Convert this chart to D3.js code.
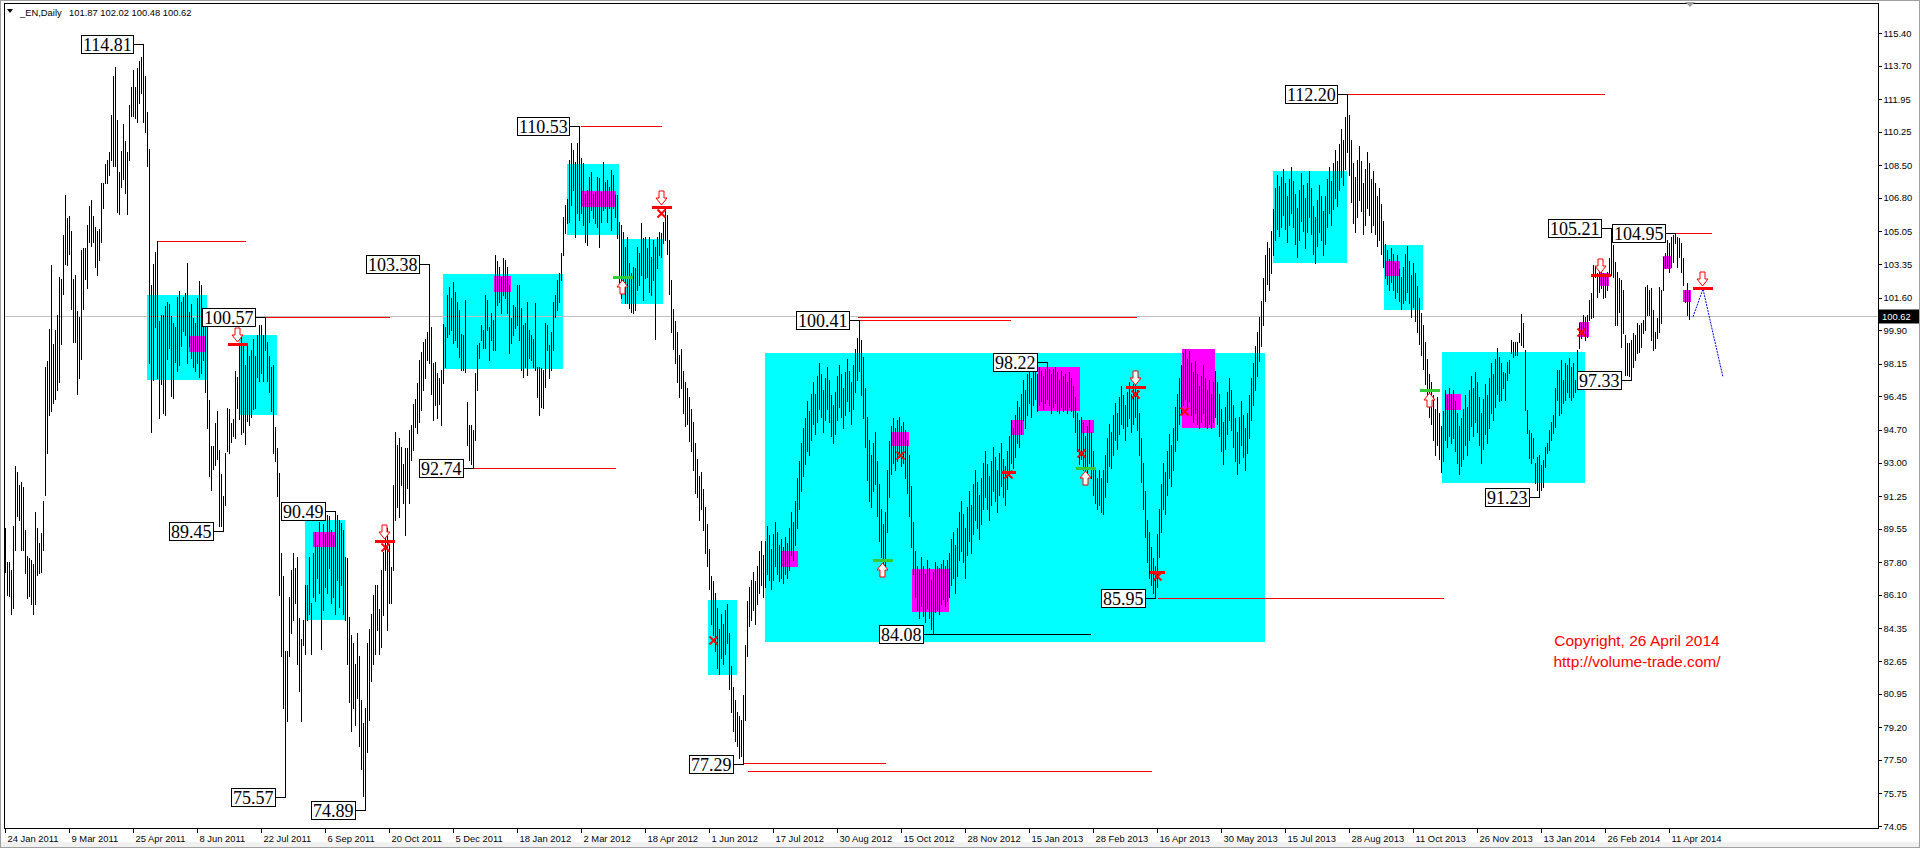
<!DOCTYPE html>
<html>
<head>
<meta charset="utf-8">
<title>_EN,Daily</title>
<style>
  body { margin: 0; background: #ffffff; overflow: hidden; }
  svg { display: block; }
  .small { font-family: "Liberation Sans", Arial, sans-serif; font-size: 9.4px; fill: #000; }
</style>
</head>
<body>
<div id="chart"></div>
<script src="https://d3js.org/d3.v7.min.js"></script>
<script>

// ---- data ----

var dateLabels = ["24 Jan 2011", "9 Mar 2011", "25 Apr 2011", "8 Jun 2011", "22 Jul 2011", "6 Sep 2011",
    "20 Oct 2011", "5 Dec 2011", "18 Jan 2012", "2 Mar 2012", "18 Apr 2012", "1 Jun 2012", "17 Jul 2012",
    "30 Aug 2012", "15 Oct 2012", "28 Nov 2012", "15 Jan 2013", "28 Feb 2013", "16 Apr 2013", "30 May 2013",
    "15 Jul 2013", "28 Aug 2013", "11 Oct 2013", "26 Nov 2013", "13 Jan 2014", "26 Feb 2014", "11 Apr 2014"];

var priceTicks = [74.05, 75.75, 77.50, 79.20, 80.95, 82.65, 84.35, 86.10, 87.80, 89.55, 91.25, 93.00, 94.70,
    96.45, 98.15, 99.90, 101.60, 103.35, 105.05, 106.80, 108.50, 110.25, 111.95, 113.70, 115.40];

var lastBar = { open: 101.87, high: 102.02, low: 100.48, close: 100.62 };

// daily highs, one per bar
var barHigh = [
    89.61, 87.82, 87.82, 87.42, 89.71, 92.80, 92.51, 91.81, 92.01, 91.71,
    89.51, 88.12, 88.02, 87.92, 87.72, 90.41, 89.61, 88.82, 89.31, 91.01,
    97.99, 98.29, 99.99, 103.28, 99.19, 99.89, 100.69, 102.68, 102.58, 104.88,
    106.97, 105.77, 105.87, 105.08, 102.58, 102.78, 100.89, 100.59, 104.08, 104.18,
    104.18, 105.37, 106.37, 106.67, 105.87, 105.28, 105.08, 105.18, 107.57, 107.57,
    108.57, 108.77, 109.17, 111.12, 113.16, 113.65, 110.86, 108.17, 109.27, 110.66,
    109.76, 109.17, 111.66, 112.56, 113.46, 112.56, 113.55, 113.95, 114.15, 114.81,
    113.16, 111.26, 109.37, 102.28, 103.38, 103.98, 104.58, 100.39, 100.69, 100.69,
    101.18, 101.38, 101.28, 100.66, 100.26, 100.06, 101.66, 101.96, 101.36, 101.66,
    101.86, 103.40, 100.86, 101.26, 100.56, 100.26, 101.56, 102.46, 102.26, 100.76,
    100.66, 100.26, 96.27, 93.88, 93.88, 95.08, 95.67, 93.68, 92.38, 91.28,
    93.48, 95.87, 95.77, 95.08, 95.28, 97.77, 97.47, 99.17, 99.66, 99.07,
    98.07, 99.17, 98.57, 98.87, 99.47, 98.57, 99.66, 100.16, 100.16, 99.66,
    100.57, 99.27, 98.57, 97.97, 98.07, 94.88, 93.78, 92.48, 88.29, 87.09,
    83.20, 83.20, 85.99, 87.39, 88.29, 87.49, 88.09, 84.90, 83.80, 84.80,
    86.60, 86.60, 88.09, 85.70, 88.29, 89.39, 88.69, 89.89, 88.59, 89.79,
    89.29, 90.29, 90.19, 89.48, 89.22, 90.49, 90.26, 90.00, 89.83, 89.48,
    88.09, 88.00, 84.96, 84.00, 83.60, 82.50, 84.10, 82.90, 80.60, 79.40,
    80.20, 83.60, 84.30, 85.10, 86.09, 86.61, 86.61, 85.39, 87.39, 88.35,
    89.74, 89.57, 88.78, 87.57, 91.83, 94.61, 93.91, 94.26, 93.82, 92.95,
    93.74, 93.74, 94.69, 94.95, 96.08, 96.34, 97.13, 98.34, 98.78, 99.30,
    99.47, 99.82, 103.38, 100.08, 98.17, 98.26, 97.65, 97.39, 97.82, 100.25,
    100.08, 101.73, 102.17, 101.56, 102.43, 101.90, 101.38, 100.95, 99.73, 99.65,
    101.47, 96.17, 94.95, 94.95, 94.69, 97.65, 99.12, 99.21, 100.17, 99.91,
    101.73, 101.47, 100.08, 100.78, 100.43, 103.82, 103.50, 103.21, 102.69, 103.65,
    103.56, 103.21, 102.26, 100.52, 101.21, 101.13, 102.26, 102.26, 101.04, 100.17,
    100.26, 101.39, 99.91, 99.65, 99.47, 101.30, 98.00, 98.00, 97.91, 97.82,
    100.26, 100.17, 99.13, 99.82, 101.39, 101.73, 102.52, 102.86, 103.91, 105.82,
    106.43, 106.77, 108.77, 109.64, 109.29, 108.69, 109.64, 110.53, 108.86, 108.60,
    107.03, 107.21, 107.90, 108.17, 107.03, 107.12, 107.90, 107.82, 107.12, 108.69,
    107.64, 107.73, 107.38, 108.25, 107.99, 106.95, 106.95, 105.56, 105.38, 105.04,
    104.25, 104.78, 103.39, 102.86, 103.21, 103.13, 104.25, 103.91, 105.47, 104.69,
    104.78, 104.17, 104.78, 103.73, 104.60, 104.25, 104.78, 105.04, 104.95, 105.56,
    106.30, 105.90, 104.60, 102.50, 101.00, 100.40, 99.80, 98.60, 98.90, 97.80,
    97.20, 96.90, 96.40, 95.80, 95.10, 94.00, 93.20, 92.30, 92.50, 91.60,
    90.70, 89.80, 88.50, 87.10, 86.80, 86.20, 85.40, 84.30, 85.10, 84.60,
    85.30, 85.60, 84.10, 82.40, 81.30, 80.60, 80.00, 79.80, 79.60, 80.90,
    83.50, 85.80, 86.50, 86.90, 87.30, 86.80, 87.60, 88.40, 88.90, 88.20,
    88.90, 89.70, 89.20, 88.50, 89.30, 89.90, 89.40, 88.70, 89.00, 88.60,
    89.10, 88.80, 89.60, 90.40, 89.90, 91.00, 92.20, 93.10, 94.00, 94.80,
    95.30, 96.20, 95.70, 96.60, 97.20, 96.60, 97.50, 98.20, 97.60, 96.80,
    97.40, 98.00, 97.30, 96.50, 96.00, 96.70, 97.50, 98.10, 97.60, 96.90,
    97.70, 98.40, 97.80, 97.20, 98.10, 98.90, 99.50, 100.41, 99.40, 98.50,
    96.90, 95.40, 94.20, 93.40, 94.00, 94.60, 93.10, 91.90, 90.60, 89.80,
    90.40, 92.60, 94.10, 94.90, 95.30, 94.80, 95.20, 95.40, 94.90, 95.10,
    94.70, 94.20, 93.40, 91.80, 89.90, 88.40, 87.60, 87.40, 88.10, 87.60,
    87.20, 87.90, 87.50, 86.90, 87.30, 87.80, 87.60, 87.50, 87.70, 87.90,
    87.60, 87.90, 88.30, 89.00, 89.40, 88.70, 89.60, 90.40, 91.00, 90.30,
    89.60, 90.70, 91.50, 90.80, 91.90, 92.60, 92.00, 91.30, 92.20, 93.00,
    93.60, 92.90, 92.30, 93.10, 93.80, 93.30, 92.60, 93.50, 94.00, 93.20,
    92.80, 93.60, 94.40, 95.20, 94.80, 95.50, 96.20, 95.90, 96.60, 97.30,
    96.80, 97.60, 98.10, 97.40, 97.90, 98.00, 97.60, 98.00, 97.80, 97.50,
    97.90, 98.22, 97.90, 97.60, 97.90, 98.00, 97.70, 97.30, 97.80, 97.50,
    97.60, 97.20, 97.70, 97.40, 97.00, 96.40, 95.60, 95.20, 95.40, 95.10,
    94.40, 94.90, 95.20, 94.60, 93.60, 92.70, 92.20, 92.60, 92.20, 92.60,
    93.40, 94.30, 95.00, 94.60, 95.50, 96.10, 95.60, 96.40, 97.00, 96.50,
    96.00, 96.70, 97.20, 96.60, 97.10, 97.50, 96.80, 95.60, 94.30, 93.00,
    91.50, 90.00, 89.40, 88.60, 88.00, 87.60, 89.30, 90.60, 91.90, 93.00,
    92.50, 93.60, 94.50, 93.90, 94.80, 95.90, 96.60, 97.40, 98.10, 98.70,
    98.90, 98.40, 98.80, 98.20, 97.70, 98.30, 97.60, 97.00, 97.50, 98.10,
    97.40, 96.80, 97.30, 96.60, 97.20, 97.80, 97.20, 96.60, 95.80, 95.10,
    95.90, 96.70, 97.40, 96.80, 96.00, 95.30, 94.60, 95.40, 96.20, 95.50,
    94.80, 95.60, 96.50, 97.40, 98.20, 99.10, 99.80, 100.60, 101.40, 102.60,
    103.80, 104.50, 104.20, 105.10, 106.20, 107.30, 108.00, 107.40, 107.90, 108.30,
    107.60, 106.90, 107.80, 108.40, 107.70, 107.00, 106.30, 107.20, 108.10, 107.50,
    106.80, 107.60, 108.20, 107.30, 106.40, 105.80, 106.70, 107.50, 106.90, 106.10,
    106.90, 107.80, 108.40, 107.70, 108.60, 109.30, 108.70, 109.60, 110.40, 109.80,
    111.00, 112.20, 111.10, 109.80, 108.60, 107.90, 108.80, 109.50, 108.70, 107.60,
    108.30, 109.20, 108.60, 107.80, 108.20, 107.60, 106.90, 107.30, 106.50, 105.60,
    104.40, 104.10, 103.60, 104.20, 103.90, 103.40, 103.80, 103.10, 102.70, 103.20,
    103.90, 104.30, 103.50, 102.80, 103.40, 102.90, 102.20, 101.60, 100.80, 100.20,
    99.30, 98.40, 97.60, 97.20, 96.50, 95.80, 96.40, 95.60, 94.90, 95.70,
    96.80, 96.50, 96.90, 96.60, 96.80, 96.20, 95.60, 94.90, 95.30, 95.80,
    96.50, 95.90, 96.80, 97.50, 96.90, 97.70, 97.20, 96.40, 95.60, 96.30,
    97.10, 96.50, 97.40, 98.20, 97.60, 98.40, 99.00, 98.50, 98.17, 97.74,
    97.65, 98.26, 98.35, 99.39, 99.30, 99.30, 99.30, 99.74, 100.75, 100.26,
    98.87, 95.74, 94.70, 94.52, 94.26, 92.96, 93.31, 93.40, 92.87, 93.13,
    93.83, 94.00, 94.70, 95.13, 95.48, 96.87, 97.83, 97.83, 98.35, 97.30,
    98.17, 98.09, 98.44, 98.00, 98.17, 97.30, 98.87, 100.26, 100.26, 100.69,
    100.61, 100.69, 101.48, 101.82, 103.30, 103.21, 102.87, 103.13, 102.95, 102.87,
    102.78, 102.95, 103.65, 105.21, 104.34, 103.47, 102.95, 102.61, 102.52, 102.00,
    99.65, 99.22, 99.22, 99.39, 99.74, 99.65, 100.26, 100.17, 100.26, 100.43,
    102.17, 102.26, 102.00, 102.08, 100.96, 99.82, 100.52, 102.17, 102.00, 103.74,
    103.91, 104.60, 104.43, 104.78, 104.85, 104.95, 104.78, 104.69, 104.43, 103.65,
    102.00, 102.35, 102.02
];

// daily lows, one per bar
var barLow = [
    87.32, 86.12, 86.02, 85.12, 85.42, 88.42, 90.21, 90.01, 88.42, 88.42,
    87.22, 85.92, 86.02, 85.62, 85.12, 85.62, 87.12, 87.22, 87.32, 88.42,
    91.31, 93.50, 95.50, 95.70, 96.10, 96.30, 96.80, 97.19, 99.19, 101.78,
    103.38, 103.28, 103.88, 100.99, 99.29, 99.29, 96.60, 97.39, 98.39, 100.99,
    102.58, 102.08, 104.48, 104.28, 104.48, 103.18, 102.78, 103.58, 104.48, 106.27,
    107.57, 107.57, 107.97, 108.77, 108.47, 108.47, 106.07, 105.97, 107.37, 107.77,
    107.07, 105.97, 108.77, 111.06, 111.06, 110.96, 110.76, 111.76, 112.26, 110.76,
    110.26, 108.47, 98.19, 94.60, 97.29, 100.09, 97.39, 95.30, 97.09, 95.60,
    95.50, 98.39, 98.99, 96.47, 96.37, 98.27, 97.77, 98.07, 99.07, 99.86,
    99.66, 98.17, 99.07, 98.47, 97.97, 97.77, 98.17, 97.47, 97.67, 98.37,
    96.67, 94.78, 92.28, 91.58, 92.68, 92.88, 93.18, 89.69, 89.69, 89.45,
    90.79, 93.58, 93.48, 94.08, 94.38, 94.28, 95.87, 95.28, 94.48, 94.58,
    93.98, 95.18, 94.98, 95.38, 95.77, 95.87, 97.47, 97.27, 97.67, 97.27,
    98.87, 97.27, 96.67, 95.67, 93.48, 93.08, 91.28, 86.10, 82.90, 80.21,
    75.57, 79.51, 82.90, 84.10, 84.80, 85.70, 82.51, 81.11, 79.51, 83.50,
    83.00, 84.80, 85.10, 83.00, 85.99, 85.80, 86.99, 86.20, 83.30, 85.30,
    86.50, 86.20, 87.49, 85.66, 86.00, 85.13, 86.87, 85.48, 86.61, 85.13,
    84.79, 82.50, 80.50, 79.00, 80.20, 79.30, 80.70, 78.20, 77.00, 75.60,
    74.89, 77.90, 79.60, 81.60, 82.50, 83.00, 84.27, 83.00, 83.40, 85.05,
    87.39, 84.27, 85.66, 85.66, 87.39, 90.00, 90.70, 90.17, 91.83, 90.87,
    89.22, 91.65, 90.87, 93.13, 93.65, 94.87, 94.52, 95.13, 95.73, 96.78,
    97.39, 98.34, 98.17, 96.60, 95.21, 95.99, 95.30, 96.08, 94.95, 97.13,
    97.99, 99.56, 99.73, 99.91, 99.21, 99.38, 99.04, 98.52, 97.82, 97.82,
    97.73, 93.91, 93.13, 92.95, 92.74, 94.17, 96.78, 98.43, 99.38, 98.95,
    98.95, 99.91, 98.34, 99.38, 98.86, 98.86, 101.21, 101.39, 100.78, 101.73,
    101.56, 100.78, 98.69, 99.21, 99.65, 100.00, 100.17, 99.39, 97.82, 97.48,
    98.00, 97.56, 98.43, 98.35, 98.00, 97.82, 96.43, 95.48, 95.91, 95.83,
    96.95, 98.87, 97.39, 97.82, 98.87, 100.61, 100.95, 101.39, 102.52, 103.82,
    104.95, 105.47, 105.56, 106.43, 107.21, 104.78, 105.99, 105.65, 105.99, 105.38,
    104.51, 104.34, 105.56, 106.17, 105.73, 105.47, 105.30, 104.25, 105.56, 106.17,
    106.25, 105.56, 106.25, 105.12, 106.25, 105.82, 104.69, 102.34, 101.56, 101.99,
    101.30, 101.30, 101.04, 100.87, 100.78, 100.95, 101.99, 102.26, 102.78, 101.47,
    102.60, 102.69, 101.91, 101.73, 102.52, 99.47, 103.13, 103.82, 103.73, 104.43,
    104.60, 103.90, 101.80, 99.80, 98.90, 98.20, 97.20, 96.40, 96.90, 95.60,
    94.90, 95.00, 94.10, 93.60, 92.60, 91.40, 91.20, 90.00, 90.60, 89.50,
    88.30, 87.60, 86.40, 84.60, 84.00, 83.20, 82.30, 82.00, 82.80, 82.50,
    83.00, 83.60, 81.20, 80.00, 79.00, 78.50, 78.20, 77.60, 77.70, 77.29,
    79.60, 82.90, 84.50, 84.80, 85.30, 84.60, 85.60, 86.20, 86.60, 86.00,
    86.50, 87.20, 86.90, 86.40, 86.90, 87.60, 87.20, 86.80, 87.00, 86.70,
    87.20, 87.00, 87.40, 88.20, 87.90, 88.70, 89.60, 90.60, 91.50, 92.30,
    92.90, 93.60, 93.40, 94.20, 95.00, 94.50, 95.10, 95.80, 95.40, 94.60,
    95.20, 95.80, 95.10, 94.40, 94.00, 94.50, 95.20, 95.90, 95.40, 94.80,
    95.50, 96.20, 95.70, 95.00, 95.80, 96.70, 97.30, 97.80, 96.50, 95.30,
    93.80, 92.10, 91.00, 90.70, 91.50, 91.90, 90.20, 88.90, 88.10, 87.40,
    87.60, 89.40, 91.20, 92.40, 93.00, 92.60, 93.10, 93.30, 92.80, 93.00,
    92.20, 91.40, 90.20, 88.60, 87.20, 86.00, 85.30, 84.90, 85.50, 85.00,
    84.70, 85.40, 84.90, 84.30, 84.08, 85.20, 85.30, 85.10, 85.60, 85.90,
    85.50, 85.80, 86.00, 86.60, 87.00, 86.20, 87.10, 87.90, 88.40, 87.80,
    87.00, 88.20, 88.90, 88.30, 89.30, 90.00, 89.60, 89.00, 89.80, 90.60,
    91.20, 90.60, 90.00, 90.80, 91.50, 91.00, 90.40, 91.30, 91.80, 91.20,
    90.80, 91.60, 92.30, 93.00, 92.70, 93.30, 94.00, 93.80, 94.50, 95.20,
    94.80, 95.50, 96.10, 95.40, 96.00, 96.30, 95.70, 96.00, 96.20, 95.80,
    96.10, 96.30, 96.00, 95.60, 95.90, 96.10, 95.70, 95.60, 95.90, 95.70,
    95.80, 95.60, 95.90, 95.70, 95.40, 94.60, 93.60, 92.90, 93.20, 92.60,
    92.10, 92.40, 93.00, 92.20, 91.30, 90.90, 90.60, 90.80, 90.40, 90.30,
    91.20, 92.00, 92.80, 92.70, 93.40, 94.20, 93.70, 94.50, 95.00, 94.80,
    94.20, 94.90, 95.30, 94.60, 95.00, 95.40, 94.70, 93.40, 92.00, 90.60,
    89.10, 87.80, 87.00, 86.60, 86.20, 85.95, 86.50, 88.10, 89.40, 90.60,
    90.30, 91.30, 92.20, 91.80, 92.60, 93.60, 94.20, 95.00, 95.60, 96.00,
    96.30, 95.80, 96.20, 95.50, 95.10, 95.60, 95.00, 94.80, 95.10, 95.60,
    94.90, 94.80, 95.00, 94.80, 95.10, 95.40, 95.00, 94.40, 93.60, 92.90,
    93.70, 94.50, 95.20, 94.70, 93.80, 93.10, 92.40, 93.00, 93.90, 93.30,
    92.60, 93.50, 94.30, 95.20, 96.00, 96.80, 97.50, 98.30, 99.10, 100.20,
    101.40, 102.30, 102.00, 102.90, 103.80, 104.60, 105.20, 104.80, 105.30, 105.90,
    105.20, 104.50, 105.40, 106.00, 105.30, 104.40, 103.70, 104.60, 105.60, 105.10,
    104.20, 105.00, 105.80, 104.90, 103.90, 103.40, 104.30, 105.00, 104.60, 103.80,
    104.40, 105.30, 106.00, 105.40, 106.20, 106.80, 106.40, 107.20, 107.90, 107.50,
    108.30, 109.20, 108.00, 106.60, 105.50, 105.00, 105.80, 106.70, 106.10, 104.90,
    105.40, 106.30, 105.90, 105.00, 105.40, 104.90, 104.30, 104.60, 103.90, 103.20,
    102.60, 102.30, 102.00, 102.40, 102.00, 101.60, 101.90, 101.40, 101.00, 101.30,
    101.50, 101.90, 101.30, 100.60, 101.10, 100.40, 99.80, 99.20, 98.60, 97.90,
    97.10, 96.20, 95.40, 95.00, 94.20, 93.40, 93.90, 93.20, 92.50, 93.10,
    94.20, 93.80, 94.40, 94.00, 94.30, 93.60, 93.00, 92.40, 92.80, 93.20,
    93.90, 93.40, 94.20, 94.90, 94.40, 95.10, 94.60, 93.90, 93.00, 93.70,
    94.50, 94.00, 94.80, 95.60, 95.20, 95.90, 96.60, 96.20, 96.26, 96.87,
    96.26, 97.30, 97.65, 98.70, 98.52, 98.61, 98.61, 99.30, 99.13, 99.04,
    95.74, 94.52, 93.22, 92.96, 93.22, 91.92, 91.57, 91.23, 91.57, 91.74,
    92.79, 93.48, 93.66, 94.18, 94.52, 94.87, 96.26, 95.48, 95.57, 96.09,
    96.26, 96.70, 96.44, 96.26, 96.44, 96.70, 96.87, 98.96, 99.48, 99.65,
    99.39, 99.56, 100.43, 100.52, 100.61, 102.69, 101.65, 101.91, 102.08, 101.56,
    101.65, 102.00, 102.78, 102.78, 102.69, 100.17, 100.17, 100.87, 99.04, 99.74,
    97.57, 97.57, 97.50, 97.33, 98.00, 98.35, 98.70, 98.78, 99.04, 99.74,
    99.91, 100.69, 100.69, 99.39, 98.87, 98.96, 99.48, 99.82, 100.26, 102.00,
    103.13, 103.21, 102.95, 103.21, 103.47, 104.43, 103.21, 103.74, 102.95, 102.26,
    101.39, 100.69, 100.48
];

// swing labels: bar index and price
var pivotBars   = [69, 130, 109, 165, 140, 180, 212, 234, 287, 369, 427, 464, 521, 575, 671, 767, 803, 813, 835];
var pivotPrices = [114.81, 100.57, 89.45, 90.49, 75.57, 74.89, 103.38, 92.74, 110.53, 77.29, 100.41, 84.08,
    98.22, 85.95, 112.20, 91.23, 105.21, 97.33, 104.95];

// cyan zones: [first bar, last bar, top price, bottom price]
var zones = [
    [71, 101, 101.72, 97.29], [117, 136, 99.65, 95.48], [150, 170, 90.00, 84.76], [219, 279, 102.83, 97.89],
    [281, 307, 108.57, 104.86], [308, 329, 104.65, 101.27], [351.5, 366, 85.83, 81.92], [380, 630, 98.72, 83.64],
    [634, 671, 108.20, 103.40], [689.5, 709, 104.34, 100.95], [718.5, 790, 98.78, 91.95]
];

// magenta clusters: [first bar, last bar, top price, bottom price]
var clusters = [
    [92, 100.5, 99.62, 98.77], [154, 165, 89.38, 88.62], [244.5, 253, 102.75, 101.91], [288, 305.5, 107.16, 106.32],
    [388, 396.5, 88.40, 87.55], [443, 452, 94.60, 93.86], [453.5, 472, 87.45, 85.20], [503, 509.5, 95.20, 94.40],
    [516.5, 537.5, 97.98, 95.69], [538.5, 544.5, 95.20, 94.50], [588.5, 605, 98.90, 94.80], [690, 697.5, 103.50, 102.70],
    [720, 728, 96.60, 95.74], [787, 792, 100.35, 99.56], [797, 802, 102.87, 102.17], [829, 833, 103.77, 103.09],
    [839, 843, 102.00, 101.40]
];

// red levels: [from bar, to bar, price]
var redLevels = [
    [76, 120, 104.55], [130, 192, 100.57], [234, 305, 92.74], [287.5, 328, 110.53], [426, 502.5, 100.41],
    [426, 565.5, 100.60], [369, 440, 77.33], [371, 573, 76.90], [576, 719, 85.95], [671, 799.5, 112.20],
    [835, 853, 104.95]
];
var blackLevels = [[464, 542.5, 84.08]];

// signals: [bar, price]
var downSignals = [[116, 99.2], [189.5, 88.9], [328, 106.35], [565, 96.95], [797.5, 102.8], [848.5, 102.1]];
var upSignals = [[308.5, 102.67], [438.5, 87.9], [540, 92.7], [712, 96.8]];
var crossMarks = [[190, 88.6], [328, 106.0], [354, 83.75], [447.5, 93.4], [501.5, 92.4], [538, 93.5],
    [565, 96.6], [576, 87.1], [589.5, 95.7], [788, 99.8]];
var redTicks = [[501.5, 92.5], [576, 87.3]];

// projected path (blue dotted): [bar, price]
var projection = [[844, 100.6], [849, 102.05], [859, 97.45]];

// ---- drawing ----

var W = 1920, H = 848;
var axisX = 1878, axisY = 828;

var x = d3.scaleLinear().domain([0, 842]).range([5, 1689]);
var y = d3.scaleLinear().domain([74.05, 115.40]).range([826, 33]);
var px = function (v) { return Math.round(x(v)) + 0.5; };
var py = function (v) { return Math.round(y(v)) + 0.5; };

var svg = d3.select("#chart").append("svg")
    .attr("width", W).attr("height", H);

svg.append("rect").attr("width", W).attr("height", H).attr("fill", "#ffffff");
svg.append("rect").attr("x", 0).attr("y", 842).attr("width", W).attr("height", 6).attr("fill", "#f0f0f0");
svg.append("rect").attr("x", 0.5).attr("y", 0.5).attr("width", W - 1).attr("height", H - 1)
    .attr("fill", "none").attr("stroke", "#a0a0a0");

var plot = svg.append("g");

// zones behind everything
plot.append("g").selectAll("rect").data(zones).join("rect")
    .attr("x", function (d) { return Math.round(x(d[0])); })
    .attr("width", function (d) { return Math.round(x(d[1]) - x(d[0])); })
    .attr("y", function (d) { return Math.round(y(d[2])); })
    .attr("height", function (d) { return Math.round(y(d[3]) - y(d[2])); })
    .attr("fill", "#00ffff");

plot.append("g").selectAll("rect").data(clusters).join("rect")
    .attr("x", function (d) { return Math.round(x(d[0])); })
    .attr("width", function (d) { return Math.round(x(d[1]) - x(d[0])); })
    .attr("y", function (d) { return Math.round(y(d[2])); })
    .attr("height", function (d) { return Math.round(y(d[3]) - y(d[2])); })
    .attr("fill", "#ff00ff");

// current price line
plot.append("line")
    .attr("x1", 5).attr("x2", axisX)
    .attr("y1", py(lastBar.close)).attr("y2", py(lastBar.close))
    .attr("stroke", "#c0c0c0").attr("shape-rendering", "crispEdges");

// level lines
plot.append("g").selectAll("line").data(redLevels).join("line")
    .attr("x1", function (d) { return px(d[0]); })
    .attr("x2", function (d) { return px(d[1]); })
    .attr("y1", function (d) { return py(d[2]); })
    .attr("y2", function (d) { return py(d[2]); })
    .attr("stroke", "#ff0000").attr("shape-rendering", "crispEdges");

plot.append("g").selectAll("line").data(blackLevels).join("line")
    .attr("x1", function (d) { return px(d[0]); })
    .attr("x2", function (d) { return px(d[1]); })
    .attr("y1", function (d) { return py(d[2]); })
    .attr("y2", function (d) { return py(d[2]); })
    .attr("stroke", "#000000").attr("shape-rendering", "crispEdges");

// price bars (high-low)
plot.append("g").selectAll("line").data(barHigh).join("line")
    .attr("x1", function (d, i) { return px(i); })
    .attr("x2", function (d, i) { return px(i); })
    .attr("y1", function (d) { return Math.round(y(d)); })
    .attr("y2", function (d, i) { return Math.round(y(barLow[i])) + 1; })
    .attr("stroke", "#000000").attr("shape-rendering", "crispEdges");

// blue dotted projection
plot.append("path")
    .attr("d", d3.line().x(function (d) { return x(d[0]); }).y(function (d) { return y(d[1]); })(projection))
    .attr("fill", "none").attr("stroke", "#0000ff").attr("stroke-width", 1)
    .attr("stroke-dasharray", "2,1");

// signals
function downArrow(cx, tip) {
    return "M" + (cx - 2.5) + "," + (tip - 14) + "H" + (cx + 2.5) + "V" + (tip - 7) + "H" + (cx + 5.5) +
        "L" + cx + "," + tip + "L" + (cx - 5.5) + "," + (tip - 7) + "H" + (cx - 2.5) + "Z";
}
function upArrow(cx, tip) {
    return "M" + (cx - 2.5) + "," + (tip + 14) + "H" + (cx + 2.5) + "V" + (tip + 7) + "H" + (cx + 5.5) +
        "L" + cx + "," + tip + "L" + (cx - 5.5) + "," + (tip + 7) + "H" + (cx - 2.5) + "Z";
}

var sig = plot.append("g");
sig.selectAll(".dn").data(downSignals).join("path").attr("class", "dn")
    .attr("d", function (d) { return downArrow(Math.round(x(d[0])) + 0.5, Math.round(y(d[1])) - 2); })
    .attr("fill", "#ffffff").attr("stroke", "#ff0000");
sig.selectAll(".dnbar").data(downSignals).join("rect").attr("class", "dnbar")
    .attr("x", function (d) { return Math.round(x(d[0])) - 9; })
    .attr("y", function (d) { return Math.round(y(d[1])) - 1; })
    .attr("width", 20).attr("height", 3).attr("fill", "#ff0000");

sig.selectAll(".up").data(upSignals).join("path").attr("class", "up")
    .attr("d", function (d) { return upArrow(Math.round(x(d[0])) + 0.5, Math.round(y(d[1])) + 3); })
    .attr("fill", "#ffffff").attr("stroke", "#ff0000");
sig.selectAll(".upbar").data(upSignals).join("rect").attr("class", "upbar")
    .attr("x", function (d) { return Math.round(x(d[0])) - 9; })
    .attr("y", function (d) { return Math.round(y(d[1])) - 1; })
    .attr("width", 20).attr("height", 3).attr("fill", "#33cc33");

sig.selectAll(".rt").data(redTicks).join("rect").attr("class", "rt")
    .attr("x", function (d) { return Math.round(x(d[0])) - 7; })
    .attr("y", function (d) { return Math.round(y(d[1])) - 1; })
    .attr("width", 15).attr("height", 3).attr("fill", "#ff0000");

var crosses = sig.selectAll(".cx").data(crossMarks).join("g").attr("class", "cx")
    .attr("transform", function (d) { return "translate(" + (Math.round(x(d[0])) + 0.5) + "," + (Math.round(y(d[1])) + 0.5) + ")"; });
crosses.append("line").attr("x1", -4).attr("y1", -4).attr("x2", 4).attr("y2", 4)
    .attr("stroke", "#ff0000").attr("stroke-width", 2);
crosses.append("line").attr("x1", -4).attr("y1", 4).attr("x2", 4).attr("y2", -4)
    .attr("stroke", "#ff0000").attr("stroke-width", 2);

// swing labels with connectors
var labels = plot.append("g").selectAll("g").data(pivotBars).join("g");
labels.each(function (b, k) {
    var g = d3.select(this);
    var bx = px(b), ly = py(pivotPrices[k]);
    var t = g.append("text")
        .attr("font-family", "'Liberation Serif', 'Times New Roman', serif")
        .attr("font-size", "18px")
        .attr("fill", "#000")
        .text(pivotPrices[k].toFixed(2));
    var w = t.node().getComputedTextLength();
    var right = Math.round(x(b)) - 10;
    var left = right - Math.round(w) - 3;
    g.insert("rect", "text")
        .attr("x", left + 0.5).attr("y", ly - 9)
        .attr("width", right - left).attr("height", 18)
        .attr("fill", "#ffffff").attr("stroke", "#000").attr("shape-rendering", "crispEdges");
    t.attr("x", left + 2).attr("y", ly + 6);
    g.append("line")
        .attr("x1", right + 0.5).attr("x2", bx)
        .attr("y1", ly).attr("y2", ly)
        .attr("stroke", "#000").attr("shape-rendering", "crispEdges");
});

// copyright note
var note = svg.append("g")
    .attr("font-family", "'Liberation Sans', Arial, sans-serif")
    .attr("font-size", "15.5px").attr("fill", "#ff0000").attr("text-anchor", "middle");
note.append("text").attr("x", 1637).attr("y", 646).text("Copyright, 26 April 2014");
note.append("text").attr("x", 1637).attr("y", 667).text("http://volume-trade.com/");

// frame
svg.append("path")
    .attr("d", "M4.5,3.5H" + (axisX + 0.5) + "V" + (axisY + 0.5) + "H4.5Z")
    .attr("fill", "none").attr("stroke", "#000").attr("shape-rendering", "crispEdges");

// price axis
var yAxis = d3.axisRight(y).tickValues(priceTicks).tickSize(3).tickPadding(2)
    .tickFormat(d3.format(".2f"));
svg.append("g")
    .attr("transform", "translate(" + (axisX + 0.5) + ",0)")
    .call(yAxis)
    .call(function (g) { g.select(".domain").remove(); })
    .call(function (g) {
        g.selectAll("text").attr("class", "small").attr("font-family", null).attr("font-size", null)
            .attr("fill", "#000");
        g.selectAll("line").attr("stroke", "#000").attr("shape-rendering", "crispEdges");
    });

// current price tag
svg.append("rect").attr("x", axisX + 1).attr("y", py(lastBar.close) - 7)
    .attr("width", 40).attr("height", 14).attr("fill", "#000");
svg.append("text").attr("class", "small").attr("x", axisX + 4).attr("y", py(lastBar.close) + 3.5)
    .style("fill", "#ffffff").text(lastBar.close.toFixed(2));

// time axis
var tickBars = dateLabels.map(function (d, k) { return k * 32; });
var xAxis = d3.axisBottom(x).tickValues(tickBars).tickSize(4).tickPadding(3)
    .tickFormat(function (d, k) { return dateLabels[k]; });
svg.append("g")
    .attr("transform", "translate(0," + (axisY + 0.5) + ")")
    .call(xAxis)
    .call(function (g) { g.select(".domain").remove(); })
    .call(function (g) {
        g.selectAll(".tick").attr("transform", function (d) { return "translate(" + px(d) + ",0)"; });
        g.selectAll("text").attr("class", "small").attr("font-family", null).attr("font-size", null)
            .attr("fill", "#000").attr("text-anchor", "start").attr("dx", 2);
        g.selectAll("line").attr("stroke", "#000").attr("shape-rendering", "crispEdges");
    });

// header
svg.append("path").attr("d", "M7,9H13L10,13Z").attr("fill", "#000");
svg.append("text").attr("class", "small").attr("x", 20).attr("y", 15.5).text("_EN,Daily");
svg.append("text").attr("class", "small").attr("x", 69).attr("y", 15.5)
    .text([lastBar.open, lastBar.high, lastBar.low, lastBar.close].map(function (v) { return v.toFixed(2); }).join(" "));

// chart shift marker
svg.append("path").attr("d", "M1685,2H1695L1690,7Z").attr("fill", "#a0a0a0");

</script>
</body>
</html>
